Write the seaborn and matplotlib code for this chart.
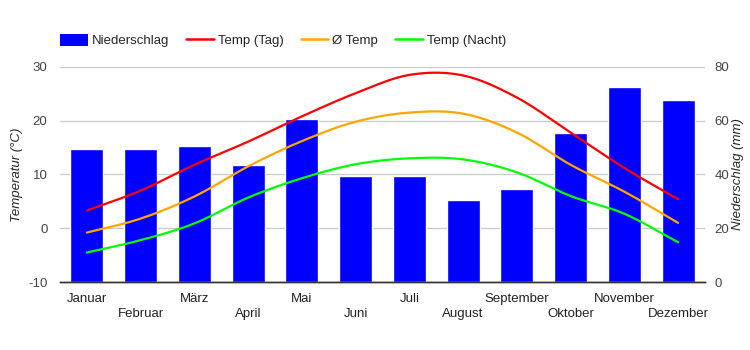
import numpy as np
import pandas as pd
import seaborn as sns
import matplotlib.pyplot as plt
from matplotlib.patches import Patch
from matplotlib.lines import Line2D

months = ["Januar", "Februar", "März", "April", "Mai", "Juni",
          "Juli", "August", "September", "Oktober", "November", "Dezember"]
niederschlag = [49.5, 49.5, 50.7, 43.7, 60.8, 39.5, 39.5, 30.5, 34.7, 55.4, 72.6, 67.7]
temp_tag = [3.3, 7.0, 11.8, 16.1, 20.8, 25.1, 28.5, 28.4, 24.3, 17.8, 11.2, 5.4]
temp_mittel = [-0.8, 1.8, 5.9, 11.5, 16.2, 19.8, 21.5, 21.3, 17.8, 11.8, 6.8, 1.0]
temp_nacht = [-4.5, -2.2, 0.9, 5.7, 9.3, 11.9, 13.0, 12.8, 10.4, 6.0, 2.7, -2.6]

series = {"Temp (Tag)": (temp_tag, "#ff0000"),
          "Ø Temp": (temp_mittel, "#ffa500"),
          "Temp (Nacht)": (temp_nacht, "#00ff00")}


def smooth(y, n=20):
    # Catmull-Rom curve through the monthly points (display only)
    y = np.asarray(y, float)
    p = np.concatenate([[2 * y[0] - y[1]], y, [2 * y[-1] - y[-2]]])
    xs, ys = [], []
    t = np.linspace(0, 1, n, endpoint=False)
    for i in range(len(y) - 1):
        p0, p1, p2, p3 = p[i], p[i + 1], p[i + 2], p[i + 3]
        ys.append(0.5 * (2 * p1 + (-p0 + p2) * t + (2 * p0 - 5 * p1 + 4 * p2 - p3) * t ** 2
                         + (-p0 + 3 * p1 - 3 * p2 + p3) * t ** 3))
        xs.append(i + t)
    xs.append([len(y) - 1])
    ys.append([y[-1]])
    return np.concatenate(xs), np.concatenate(ys)


sns.set_style("white")
plt.rcParams["font.family"] = ["Liberation Sans", "DejaVu Sans"]
plt.rcParams["axes.unicode_minus"] = False
fs = 9.5

fig = plt.figure(figsize=(7.5, 3.5), dpi=100)
ax = fig.add_axes([0.08, 0.194, 0.86, 0.615])

# bars on the right-hand scale
bar_df = pd.DataFrame({"Monat": months, "Niederschlag": niederschlag})
sns.barplot(data=bar_df, x="Monat", y="Niederschlag", color="#0000ff", saturation=1,
            width=0.61, ax=ax, zorder=2)

# temperature lines on the left-hand scale
ax2 = ax.twinx()
rows = []
for name, (vals, col) in series.items():
    xs, ys = smooth(vals)
    rows.append(pd.DataFrame({"x": xs, "y": ys, "Serie": name}))
line_df = pd.concat(rows, ignore_index=True)
sns.lineplot(data=line_df, x="x", y="y", hue="Serie",
             palette={k: v[1] for k, v in series.items()},
             linewidth=1.6, legend=False, ax=ax2, sort=False)

ax.set_ylim(0, 80)
ax.set_yticks([0, 20, 40, 60, 80])
ax.yaxis.tick_right()
ax.yaxis.set_label_position("right")
ax.set_ylabel("Niederschlag (mm)", fontsize=fs, style="italic")
ax.yaxis.set_label_coords(1.042, 0.5)
ax.set_xlim(-0.5, 11.5)
ax.grid(axis="y", color="#cccccc", linewidth=1, zorder=0)
ax.set_axisbelow(True)

ax.set_xticks(range(0, 12, 2))
ax.set_xticklabels(months[0::2])
ax.set_xticks(range(1, 12, 2), minor=True)
ax.set_xticklabels(months[1::2], minor=True)
ax.tick_params(axis="x", which="major", length=0, pad=8, labelsize=fs, colors="#222222")
ax.tick_params(axis="x", which="minor", length=0, pad=19, labelsize=fs, colors="#222222")
ax.tick_params(axis="y", length=0, pad=7, labelsize=fs, colors="#444444")
ax.set_xlabel("")

ax2.set_ylim(-10, 30)
ax2.set_yticks([-10, 0, 10, 20, 30])
ax2.yaxis.tick_left()
ax2.yaxis.set_label_position("left")
ax2.set_ylabel("Temperatur (°C)", fontsize=fs, style="italic")
ax2.yaxis.set_label_coords(-0.057, 0.5)
ax2.tick_params(axis="y", length=0, pad=9, labelsize=fs, colors="#444444")
ax2.set_xlim(-0.5, 11.5)
ax2.set_xlabel("")

for a in (ax, ax2):
    for s in ("top", "left", "right"):
        a.spines[s].set_visible(False)
    a.spines["bottom"].set_color("#333333")
    a.spines["bottom"].set_linewidth(1)

handles = [Patch(facecolor="#0000ff", edgecolor="none", label="Niederschlag")]
for name, (vals, col) in series.items():
    handles.append(Line2D([0], [0], color=col, linewidth=1.8, label=name))
fig.legend(handles=handles, loc="center left", bbox_to_anchor=(0.064, 0.884), ncol=4,
           frameon=False, fontsize=fs, handlelength=2.1, handleheight=1.0,
           handletextpad=0.3, columnspacing=1.3)

fig.savefig("out.png", dpi=100)
